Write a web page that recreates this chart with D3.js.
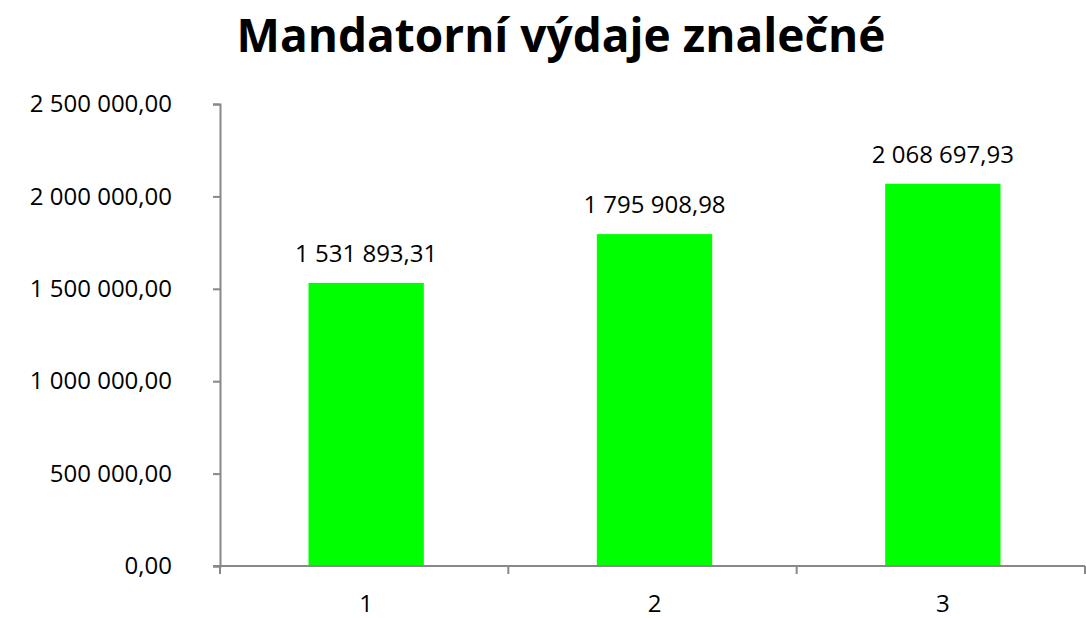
<!DOCTYPE html>
<html>
<head>
<meta charset="utf-8">
<script src="https://cdn.jsdelivr.net/npm/d3@7"></script>
<style>
  body { margin: 0; background: #fff; }
  text { font-family: "Open Sans", sans-serif; }
</style>
</head>
<body>
<div id="chart"></div>
<script>
// Data
var title = 'Mandatorní výdaje znalečné'
var categories = ['1', '2', '3']
var values = [1531893.31, 1795908.98, 2068697.93]
var yTicks = [0, 500000, 1000000, 1500000, 2000000, 2500000]

// Dimensions
var width = 1086
var height = 618
var margin = { top: 104, right: 1, bottom: 52, left: 220 }
var chartWidth = width - margin.left - margin.right
var chartHeight = height - margin.top - margin.bottom
var fontSize = 24

var cz = d3.formatLocale({ decimal: ',', thousands: ' ', grouping: [3], currency: ['', ''] })
var fmt = cz.format(',.2f')

var svg = d3.select('#chart').append('svg')
  .attr('width', width)
  .attr('height', height)

svg.append('text')
  .attr('x', 561)
  .attr('y', 52)
  .attr('text-anchor', 'middle')
  .attr('font-size', 46)
  .attr('font-weight', 'bold')
  .attr('fill', '#000')
  .text(title)

var g = svg.append('g')
  .attr('transform', 'translate(' + margin.left + ',' + margin.top + ')')

// Scales
var x = d3.scaleBand()
  .domain(categories)
  .range([0, chartWidth])
  .paddingInner(0.6)
  .paddingOuter(0.3)

var y = d3.scaleLinear()
  .domain([0, 2500000])
  .range([chartHeight, 0])

// Bars
g.selectAll('.bar')
  .data(values)
  .enter().append('rect')
  .attr('class', 'bar')
  .attr('x', function (d, i) { return x(categories[i]) + 2 })
  .attr('y', function (d) { return y(d) })
  .attr('width', x.bandwidth())
  .attr('height', function (d) { return chartHeight - y(d) })
  .attr('fill', '#00ff00')

// Value labels
g.selectAll('.label')
  .data(values)
  .enter().append('text')
  .attr('class', 'label')
  .attr('x', function (d, i) { return x(categories[i]) + x.bandwidth() / 2 + 2 })
  .attr('y', function (d) { return y(d) - 21 })
  .attr('text-anchor', 'middle')
  .attr('font-size', fontSize)
  .attr('fill', '#000')
  .text(function (d) { return fmt(d) })

// Y axis
var yAxis = g.append('g')
  .call(d3.axisLeft(y).tickValues(yTicks).tickSize(7).tickPadding(41).tickFormat(fmt))
yAxis.select('.domain').attr('stroke', '#888').attr('stroke-width', 2)
yAxis.selectAll('.tick line').attr('stroke', '#888').attr('stroke-width', 2)
yAxis.selectAll('.tick text')
  .attr('font-size', fontSize)
  .attr('font-family', '"Open Sans", sans-serif')
  .attr('fill', '#000')

// X axis: ticks on category boundaries
var step = x.step()
var xg = g.append('g')
  .attr('transform', 'translate(0,' + chartHeight + ')')
xg.append('line')
  .attr('x1', -7).attr('x2', chartWidth)
  .attr('stroke', '#888').attr('stroke-width', 2)
xg.selectAll('.xtick')
  .data(d3.range(categories.length + 1))
  .enter().append('line')
  .attr('class', 'xtick')
  .attr('x1', function (i) { return i * step })
  .attr('x2', function (i) { return i * step })
  .attr('y1', 0).attr('y2', 8)
  .attr('stroke', '#888').attr('stroke-width', 2)
xg.selectAll('.xlabel')
  .data(categories)
  .enter().append('text')
  .attr('class', 'xlabel')
  .attr('x', function (d) { return x(d) + x.bandwidth() / 2 + 2 })
  .attr('y', 46)
  .attr('text-anchor', 'middle')
  .attr('font-size', fontSize)
  .attr('fill', '#000')
  .text(function (d) { return d })
</script>
</body>
</html>
